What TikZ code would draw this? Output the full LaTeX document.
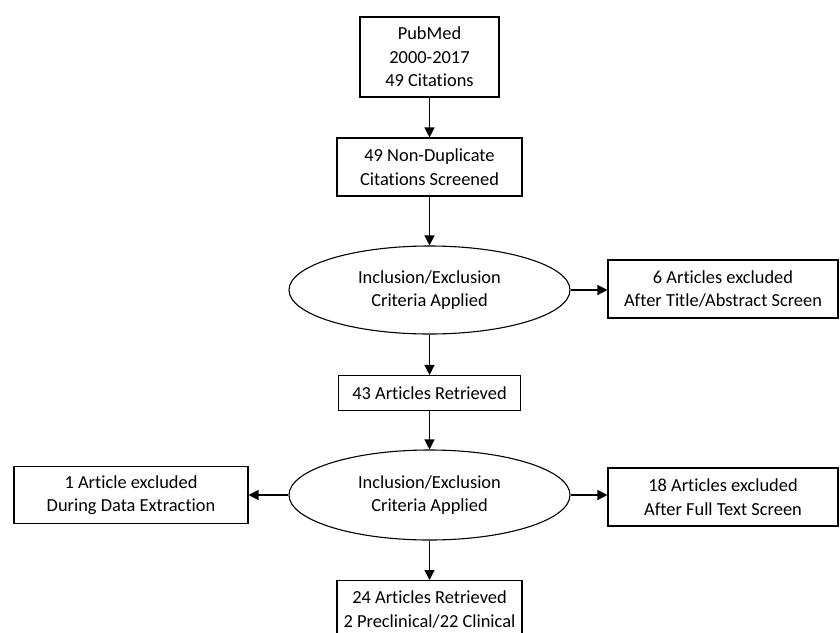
\documentclass[tikz,border=0pt]{standalone}
\usepackage{fontspec}
\setmainfont[Ligatures=NoCommon]{Carlito}
\usetikzlibrary{arrows.meta,shapes.geometric}
\begin{document}
\begin{tikzpicture}[x=1pt,y=-1pt,
  every node/.style={font=\fontsize{18.4}{23.5}\selectfont, align=center, inner sep=0pt},
  box/.style={draw, line width=1.1pt, rectangle},
  oval/.style={draw, line width=1.1pt, ellipse},
  conn/.style={line width=1.3pt, -{Triangle[length=10pt,width=10pt]}}]
\useasboundingbox (0,0) rectangle (840,632);
\clip (0,0) rectangle (840,632);
\node[box, minimum width=139pt, minimum height=80pt] (pub) at (429.5,57) {PubMed\\2000-2017\\49 Citations};
\node[box, minimum width=185pt, minimum height=58pt] (cit) at (429.5,167) {49 Non-Duplicate\\Citations Screened};
\node[oval, minimum width=281pt, minimum height=88pt] (ell1) at (429.5,290) {Inclusion/Exclusion\\Criteria Applied};
\node[box, minimum width=230pt, minimum height=58pt] (ex1) at (723,289) {6 Articles excluded\\After Title/Abstract Screen};
\node[box, minimum width=182pt, minimum height=35pt] (art) at (429.5,393) {43 Articles Retrieved};
\node[oval, minimum width=281pt, minimum height=90pt] (ell2) at (429.5,495) {Inclusion/Exclusion\\Criteria Applied};
\node[box, minimum width=234pt, minimum height=57pt] (exL) at (131,495) {1 Article excluded\\During Data Extraction};
\node[box, minimum width=230pt, minimum height=58pt] (exR) at (723,497) {18 Articles excluded\\After Full Text Screen};
\node[box, minimum width=185pt, minimum height=58pt, anchor=north] (fin) at (429.5,580) {24 Articles Retrieved\\2 Preclinical/22 Clinical};
\draw[conn] (pub) -- (cit);
\draw[conn] (cit) -- (ell1);
\draw[conn] (ell1.east) -- (ell1.east -| ex1.west);
\draw[conn] (ell1) -- (art);
\draw[conn] (art) -- (ell2);
\draw[conn] (ell2.west) -- (ell2.west -| exL.east);
\draw[conn] (ell2.east) -- (ell2.east -| exR.west);
\draw[conn] (ell2) -- (fin);
\end{tikzpicture}
\end{document}
